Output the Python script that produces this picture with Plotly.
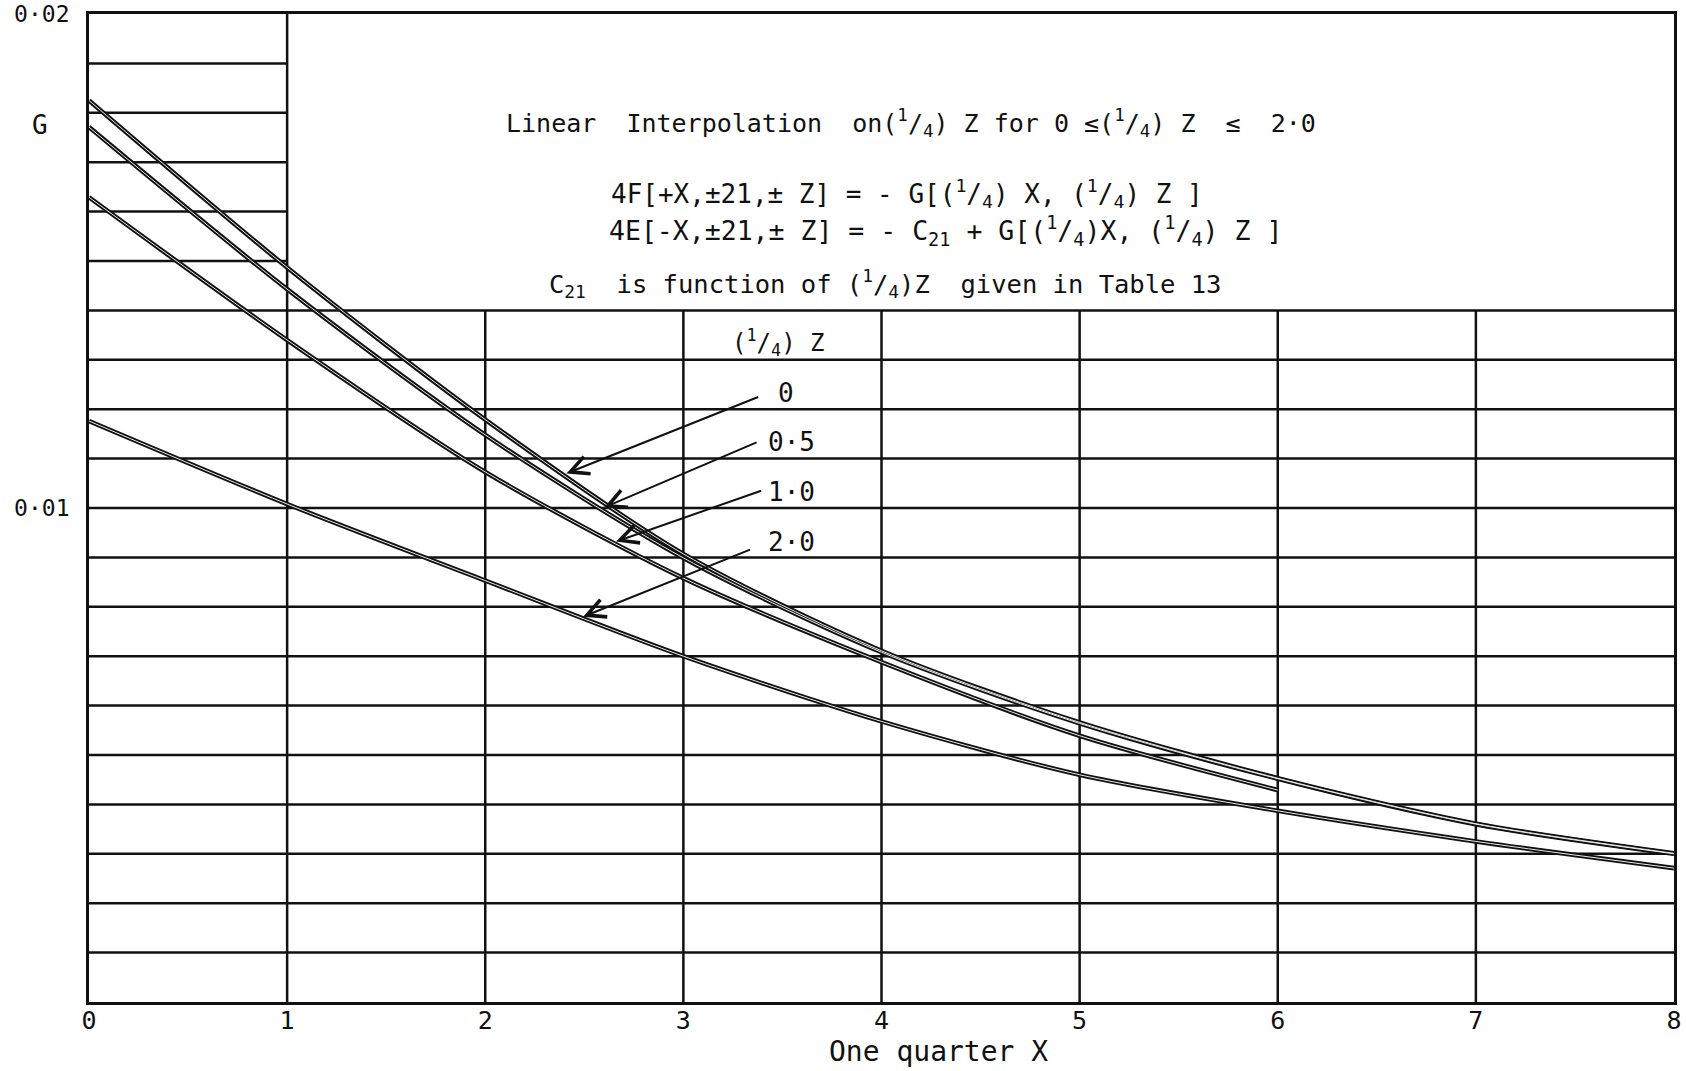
import plotly.graph_objects as go

# ---- data ----
x_quarter = [0, 1, 2, 3, 4, 5, 6, 7, 8]
g_z0 = [0.01825, 0.01487, 0.01179, 0.00907, 0.00711, 0.00566, 0.00453, 0.00361, 0.00301]
g_z05 = [0.01771, 0.01443, 0.01148, 0.00899, 0.00708, 0.00564, 0.00452, 0.00360, 0.00300]
x_z10 = [0, 1, 2, 3, 4, 5, 6]
g_z10 = [0.01629, 0.01340, 0.01073, 0.00858, 0.00688, 0.00539, 0.00429]
g_z20 = [0.01176, 0.01008, 0.00853, 0.00700, 0.00568, 0.00460, 0.00387, 0.00325, 0.00271]

curve_labels = ["0", "0·5", "1·0", "2·0"]
label_x = [3.466, 3.419, 3.419, 3.419]
label_g = [0.01232, 0.01134, 0.01033, 0.00932]
arrow_tail_x = [3.385, 3.377, 3.40, 3.344]
arrow_tail_g = [0.01226, 0.01134, 0.01036, 0.00917]
arrow_tip_x = [2.41, 2.60, 2.66, 2.494]
arrow_tip_g = [0.01070, 0.01001, 0.00932, 0.00780]

x_ticks = [0, 1, 2, 3, 4, 5, 6, 7, 8]
x_ticktext = ["0", "1", "2", "3", "4", "5", "6", "7", "8"]
y_ticks = [0.01, 0.02]
y_ticktext = ["0·01", "0·02"]

grid_full_y = [0.001, 0.002, 0.003, 0.004, 0.005, 0.006, 0.007,
               0.008, 0.009, 0.010, 0.011, 0.012, 0.013, 0.014]
grid_left_y = [0.015, 0.016, 0.017, 0.018, 0.019]
grid_low_x = [2, 3, 4, 5, 6, 7]
grid_tall_x = [1]
box_bottom_g = 0.014
box_left_x = 1

frac = "(<sup>1</sup>/<sub>4</sub>)"
text_lines = [
    "Linear  Interpolation  on" + frac + " Z for 0 ≤" + frac + " Z  ≤  2·0",
    "4F[+X,±21,± Z] = - G[" + frac + " X, " + frac + " Z ]",
    "4E[-X,±21,± Z] = - C<sub>21</sub> + G[" + frac + "X, " + frac + " Z ]",
    "C<sub>21</sub>  is function of " + frac + "Z  given in Table 13",
]
text_x = [2.093, 2.625, 2.615, 2.31]
text_g = [0.01779, 0.016375, 0.01561, 0.01454]
text_size = [25, 26, 26.5, 25.5]

FONT = "DejaVu Sans Mono"
INK = "#111111"

fig = go.Figure()

# curves drawn as "hollow" double lines like the inked original
series = [(x_quarter, g_z0), (x_quarter, g_z05), (x_z10, g_z10), (x_quarter, g_z20)]
for xs, gs in series:
    fig.add_trace(go.Scatter(x=xs, y=gs, mode="lines",
                             line=dict(color=INK, width=4.6, shape="spline", smoothing=0.8),
                             showlegend=False, hoverinfo="skip"))
for xs, gs in series:
    fig.add_trace(go.Scatter(x=xs, y=gs, mode="lines",
                             line=dict(color="#e8e8e8", width=1.0, shape="spline", smoothing=0.8),
                             showlegend=False, hoverinfo="skip"))

shapes = []
line_style = dict(color=INK, width=2.5)
for g in grid_full_y:
    shapes.append(dict(type="line", xref="x", yref="y", x0=0, x1=8, y0=g, y1=g, line=line_style, layer="below"))
for g in grid_left_y:
    shapes.append(dict(type="line", xref="x", yref="y", x0=0, x1=box_left_x, y0=g, y1=g, line=line_style, layer="below"))
for xv in grid_low_x:
    shapes.append(dict(type="line", xref="x", yref="y", x0=xv, x1=xv, y0=0, y1=box_bottom_g, line=line_style, layer="below"))
for xv in grid_tall_x:
    shapes.append(dict(type="line", xref="x", yref="y", x0=xv, x1=xv, y0=0, y1=0.02, line=line_style, layer="below"))

annotations = []
for lab, lx, lg in zip(curve_labels, label_x, label_g):
    annotations.append(dict(x=lx, y=lg, xref="x", yref="y", text=lab, showarrow=False,
                            xanchor="left", yanchor="middle",
                            font=dict(family=FONT, size=26, color=INK)))
for tx, tg, hx, hg in zip(arrow_tail_x, arrow_tail_g, arrow_tip_x, arrow_tip_g):
    annotations.append(dict(x=hx, y=hg, xref="x", yref="y", ax=tx, ay=tg, axref="x", ayref="y",
                            text="", showarrow=True, arrowhead=5, arrowsize=1.8,
                            arrowwidth=2, arrowcolor=INK, standoff=0, startstandoff=0))
annotations.append(dict(x=3.477, y=0.01335, xref="x", yref="y", text=frac + " Z", showarrow=False,
                        xanchor="center", yanchor="middle",
                        font=dict(family=FONT, size=24, color=INK)))
for t, tx, tg, ts in zip(text_lines, text_x, text_g, text_size):
    annotations.append(dict(x=tx, y=tg, xref="x", yref="y", text=t, showarrow=False,
                            xanchor="left", yanchor="middle",
                            font=dict(family=FONT, size=ts, color=INK)))
annotations.append(dict(x=-0.031, y=0.01775, xref="paper", yref="y", text="G", showarrow=False,
                        xanchor="center", yanchor="middle",
                        font=dict(family=FONT, size=26, color=INK)))
annotations.append(dict(x=0.536, y=-0.0506, xref="paper", yref="paper", text="One quarter X",
                        showarrow=False, xanchor="center", yanchor="middle",
                        font=dict(family=FONT, size=28, color=INK)))

fig.update_layout(
    width=1686, height=1071,
    margin=dict(l=89, r=12, t=14, b=69, pad=0, autoexpand=False),
    paper_bgcolor="white", plot_bgcolor="white",
    shapes=shapes, annotations=annotations,
    xaxis=dict(range=[0, 8], tickvals=x_ticks, ticktext=x_ticktext, showgrid=False, zeroline=False,
               showline=True, linecolor=INK, linewidth=2.8, mirror=True, ticks="",
               automargin=False, ticklabelstandoff=-6,
               tickfont=dict(family=FONT, size=25, color=INK)),
    yaxis=dict(range=[0, 0.02], tickvals=y_ticks, ticktext=y_ticktext, showgrid=False, zeroline=False,
               showline=True, linecolor=INK, linewidth=2.8, mirror=True, ticks="",
               automargin=False, ticklabelstandoff=12,
               tickfont=dict(family=FONT, size=23, color=INK)),
)

fig.write_html("out.html", config={"displayModeBar": False},
               post_script="document.body.style.margin='0';document.body.style.overflow='hidden';")
